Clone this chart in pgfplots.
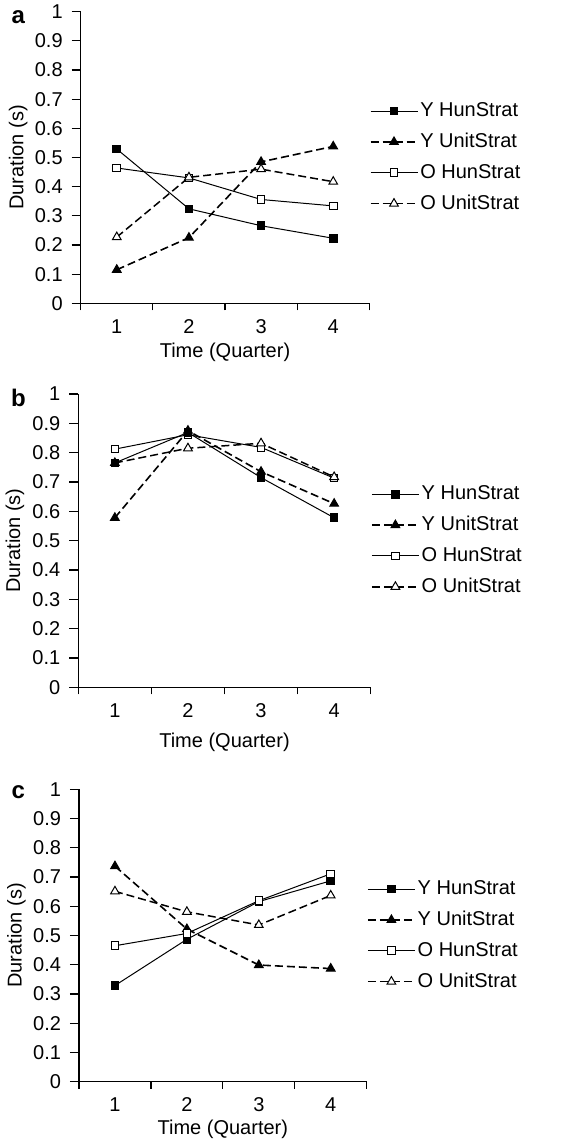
\documentclass[border=0pt]{standalone}
\usepackage{fontspec}
\setmainfont{Liberation Sans}
\usepackage{pgfplots}
\usepackage{pgfplotstable}
\pgfplotsset{compat=1.18}

% quarter, Y HunStrat, Y UnitStrat, O HunStrat, O UnitStrat
\pgfplotstableread{
q yh yu oh ou
1 0.529 0.115 0.464 0.227
2 0.324 0.225 0.430 0.432
3 0.266 0.485 0.356 0.460
4 0.223 0.538 0.334 0.417
}\dataA
\pgfplotstableread{
q yh yu oh ou
1 0.765 0.578 0.812 0.765
2 0.869 0.875 0.861 0.815
3 0.715 0.735 0.818 0.832
4 0.578 0.626 0.713 0.717
}\dataB
\pgfplotstableread{
q yh yu oh ou
1 0.329 0.737 0.465 0.651
2 0.487 0.522 0.507 0.581
3 0.616 0.399 0.619 0.536
4 0.687 0.387 0.711 0.637
}\dataC

\pgfplotsset{
  yh/.style={black, line width=0.5pt, mark=square*, mark size=1.9pt,
    mark options={solid, fill=black}},
  yu/.style={black, line width=0.8pt, dash pattern=on 4pt off 2pt,
    mark=triangle*, mark size=2.5pt, mark options={solid, fill=black, line width=0.5pt}},
  oh/.style={black, line width=0.5pt, mark=square*, mark size=1.9pt,
    mark options={solid, fill=white}},
  ou/.style={black, line width=0.75pt, dash pattern=on 4pt off 2pt,
    mark=triangle*, mark size=2.5pt, mark options={solid, fill=white, line width=0.5pt}},
  panel/.style={
    scale only axis, anchor=south west,
    xmin=0.5, xmax=4.5, ymin=0, ymax=1,
    axis x line*=bottom, axis y line*=left,
    axis line style={line width=0.6pt, -},
    xtick={1,2,3,4},
    major x tick style={draw=none},
    minor xtick={0.5,1.5,2.5,3.5,4.5},
    ytick={0,0.1,0.2,0.3,0.4,0.5,0.6,0.7,0.8,0.9,1},
    tick align=outside,
    major tick length=4.5pt, minor tick length=3.5pt,
    tick style={black, line width=0.6pt},
    /pgf/number format/assume math mode=true,
    /pgf/number format/fixed,
    ticklabel style={font=\fontsize{10}{12}\selectfont},
    yticklabel style={xshift=-1pt},
    label style={font=\fontsize{10}{12}\selectfont},
    ylabel={Duration (s)},
    xlabel={Time (Quarter)},
    every axis y label/.style={at={(axis description cs:-0.217,0.5)}, rotate=90, anchor=center},
    legend style={draw=none, fill=none, at={(1,0.5)}, anchor=west,
      inner sep=0pt, row sep=6.8pt,
      font=\fontsize{10}{12}\selectfont,
      nodes={inner xsep=1pt, inner ysep=0pt}},
    legend cell align=left,
    legend image code/.code={\draw[mark repeat=2,mark phase=2,##1]
      plot coordinates {(0pt,0pt)(11.75pt,0pt)(23.5pt,0pt)};},
  },
}

\begin{document}
\begin{tikzpicture}
\path[use as bounding box] (0,0) rectangle (285.5pt,-571.5pt);

\begin{axis}[panel, at={(40.35pt,-151.65pt)}, width=144.3pt, height=145.8pt,
  every axis x label/.style={at={(axis description cs:0.5,-0.168)}, anchor=center}]
\addplot[yh] table[x=q, y=yh] {\dataA};
\addplot[yu] table[x=q, y=yu] {\dataA};
\addplot[oh] table[x=q, y=oh] {\dataA};
\addplot[ou] table[x=q, y=ou] {\dataA};
\legend{Y HunStrat, Y UnitStrat, O HunStrat, O UnitStrat}
\end{axis}
\node[font=\bfseries\fontsize{12}{14}\selectfont] at (9.2pt,-8.7pt) {a};

\begin{axis}[panel, at={(39.15pt,-343.65pt)}, width=146.2pt, height=146.65pt,
  every axis x label/.style={at={(axis description cs:0.5,-0.188)}, anchor=center}]
\addplot[yh] table[x=q, y=yh] {\dataB};
\addplot[yu] table[x=q, y=yu] {\dataB};
\addplot[oh] table[x=q, y=oh] {\dataB};
\addplot[ou] table[x=q, y=ou] {\dataB};
\addplot[yh, only marks, forget plot] table[x=q, y=yh] {\dataB};
\legend{Y HunStrat, Y UnitStrat, O HunStrat, O UnitStrat}
\end{axis}
\node[font=\bfseries\fontsize{12}{14}\selectfont] at (9.2pt,-199pt) {b};

\begin{axis}[panel, at={(39.5pt,-540.85pt)}, width=143.85pt, height=146.2pt,
  every axis x label/.style={at={(axis description cs:0.5,-0.164)}, anchor=center}]
\addplot[yh] table[x=q, y=yh] {\dataC};
\addplot[yu] table[x=q, y=yu] {\dataC};
\addplot[oh] table[x=q, y=oh] {\dataC};
\addplot[ou] table[x=q, y=ou] {\dataC};
\legend{Y HunStrat, Y UnitStrat, O HunStrat, O UnitStrat}
\end{axis}
\node[font=\bfseries\fontsize{12}{14}\selectfont] at (9.2pt,-396.3pt) {c};
\end{tikzpicture}
\end{document}
